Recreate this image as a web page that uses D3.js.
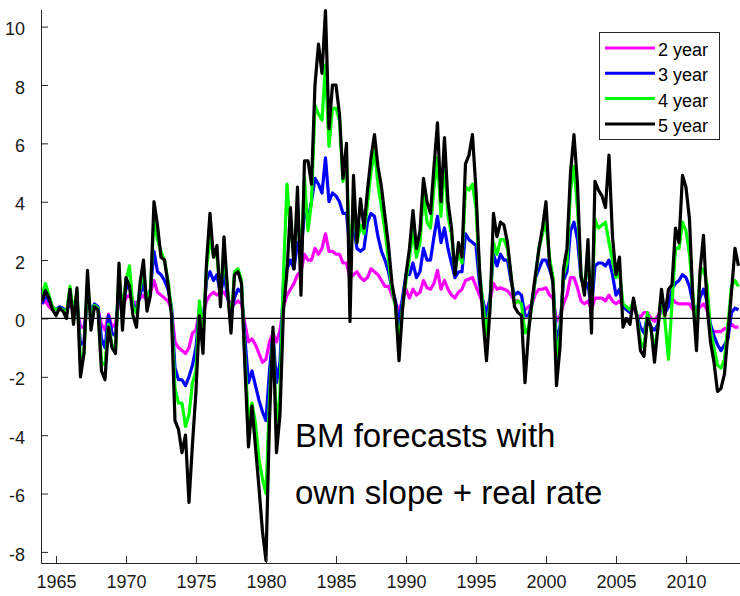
<!DOCTYPE html>
<html>
<head>
<meta charset="utf-8">
<script src="https://cdn.jsdelivr.net/npm/d3@7"></script>
<style>
  body { margin: 0; background: #fff; }
  text { font-family: "Liberation Sans", Arial, sans-serif; }
</style>
</head>
<body>
<div id="chart"></div>
<script>
// quarterly observations, one row per year (Q1..Q4), 1964-2013
var years = d3.range(1964, 2014);

var twoYear = [
  0.5, 0.6, 0.4, 0.3,     0.3, 0.35, 0.3, 0.3,    0.5, 0.3, 0.4, -0.3,    -0.3, 0.5, 0.3, 0.4,
  0.3, -0.2, -0.4, 0.15,  -0.3, -0.2, 0.6, 0.4,   0.7, 0.8, 0.6, 0.5,     0.7, 0.8, 0.6, 0.9,
  1.3, 0.9, 0.8, 0.7,     0.6, 0.3, -0.8, -1.0,   -1.1, -1.2, -1.0, -0.5, -0.4, 0.3, 0.1, 0.6,
  0.8, 0.9, 0.8, 0.9,     0.9, 0.7, 0.5, 0.5,     0.6, 0.5, -0.2, -0.8,   -0.7, -0.9, -1.2, -1.5,
  -1.4, -0.8, -0.5, -0.8, -0.4, 0.4, 0.8, 1.0,    1.2, 1.5, 1.6, 2.2,     2.0, 2.0, 2.4, 2.2,
  2.4, 2.9, 2.3, 2.3,     2.2, 2.2, 1.9, 1.9,     1.4, 1.5, 1.6, 1.4,     1.3, 1.4, 1.7, 1.6,
  1.5, 1.3, 1.1, 1.1,     0.8, 0.5, 0.3, 0.6,     1.0, 0.7, 1.0, 0.8,     0.9, 1.3, 1.05, 1.0,
  1.2, 1.65, 1.0, 1.3,    1.0, 0.8, 0.7, 0.9,     1.0, 1.3, 1.35, 1.4,    1.1, 0.8, 0.5, 0.3,
  0.6, 1.2, 1.0, 1.05,    1.0, 0.95, 0.8, 0.6,    0.6, 0.5, 0.3, 0.4,     0.5, 0.85, 1.0, 1.0,
  1.05, 0.8, 0.7, -0.1,   0.1, 0.5, 0.8, 1.4,     1.4, 1.05, 0.6, 0.5,    0.6, 0.3, 0.7, 0.7,
  0.7, 0.6, 0.8, 0.6,     0.5, 0.6, 0.4, 0.35,    0.2, 0.4, 0.1, 0.05,    0.2, 0.2, 0.0, -0.1,
  0.1, 0.3, 0.3, 0.45,    0.7, 0.55, 0.5, 0.5,    0.5, 0.5, 0.3, 0.2,     0.4, 0.5, 0.3, -0.35,
  -0.45, -0.45, -0.45, -0.35, -0.35, -0.2, -0.3, -0.3
];

var threeYear = [
  0.5, 0.8, 0.6, 0.4,     0.3, 0.4, 0.35, 0.2,    0.7, 0.2, 0.6, -0.9,    -0.8, 0.9, 0.2, 0.5,
  0.4, -0.7, -1.0, 0.1,   -0.5, -0.6, 1.0, 0.3,   1.0, 1.2, 0.5, 0.3,     0.8, 1.2, 0.6, 1.0,
  2.3, 1.6, 1.5, 1.3,     1.0, 0.4, -1.7, -2.1,   -2.1, -2.3, -2.0, -1.6, -1.0, 0.4, -0.2, 1.3,
  1.6, 1.3, 1.5, 0.8,     1.5, 0.8, 0.1, 0.7,     1.0, 0.9, -0.7, -2.2,   -1.8, -2.3, -2.8, -3.2,
  -3.5, -1.8, -0.5, -2.2, -1.5, 1.2, 1.7, 2.0,    1.7, 2.6, 2.3, 3.6,     3.4, 4.0, 4.8, 4.6,
  4.3, 5.5, 4.0, 4.3,     4.2, 4.0, 3.6, 3.6,     2.4, 3.2, 2.4, 2.3,     2.4, 3.3, 3.6, 3.5,
  2.8, 2.3, 2.0, 1.6,     1.0, 0.6, -0.2, 0.7,    1.5, 1.5, 1.9, 1.4,     1.6, 2.4, 2.0, 2.0,
  2.8, 3.5, 2.6, 3.1,     2.4, 1.9, 1.4, 1.6,     1.6, 2.9, 2.7, 2.6,     2.5, 1.2, 0.6, 0.1,
  0.7, 2.2, 1.8, 2.2,     2.0, 2.0, 1.3, 0.8,     0.9, 0.8, 0.1, 0.1,     0.5, 1.4, 1.7, 2.0,
  2.0, 1.7, 1.3, -0.8,    -0.3, 1.3, 1.6, 3.0,    3.3, 2.7, 1.4, 1.0,     1.2, 0.3, 1.8, 1.9,
  1.9, 1.8, 2.0, 1.5,     0.8, 1.0, 0.4, 0.3,     0.2, 0.5, 0.1, -0.3,    -0.5, 0.1, -0.3, -0.4,
  -0.2, 0.5, 0.2, 0.4,    1.0, 1.2, 1.3, 1.5,     1.4, 1.1, 0.5, 0.2,     0.7, 1.0, 0.6, -0.2,
  -0.6, -0.9, -1.1, -0.9, -0.7, 0.2, 0.35, 0.3
];

var fourYear = [
  0.8, 1.2, 0.8, 0.4,     0.3, 0.35, 0.3, 0.2,    1.1, 0.2, 0.9, -1.5,    -1.2, 1.3, 0.0, 0.45,
  0.35, -1.5, -1.6, -0.2, -0.9, -1.1, 1.5, 0.2,   1.3, 1.8, 0.4, 0.2,     1.0, 1.7, 0.5, 1.0,
  3.4, 2.7, 2.3, 2.0,     1.3, 0.3, -2.4, -2.9,   -2.9, -3.7, -3.3, -2.2, -1.8, 0.6, -0.6, 1.7,
  2.8, 2.1, 2.2, 0.8,     2.2, 1.0, -0.2, 1.6,    1.7, 1.3, -1.4, -3.5,   -2.9, -3.6, -4.8, -5.5,
  -6.0, -2.8, -0.5, -3.7, -2.6, 1.5, 4.6, 3.0,    2.2, 3.8, 2.0, 4.8,     3.0, 4.0, 7.3, 7.0,
  6.8, 8.7, 5.9, 7.2,     7.2, 6.8, 4.7, 5.6,     1.5, 4.2, 2.6, 3.2,     2.9, 3.9, 5.0, 5.8,
  4.6, 3.8, 3.0, 2.0,     1.0, 0.4, -1.0, 0.4,    1.3, 2.1, 3.0, 2.1,     2.6, 4.3, 3.3, 3.1,
  4.5, 5.5, 3.5, 5.4,     3.5, 2.9, 1.6, 2.3,     1.9, 4.5, 4.4, 4.6,     3.8, 1.6, 0.5, -0.6,
  0.5, 2.6, 2.2, 2.7,     2.7, 2.4, 1.5, 0.5,     0.6, 0.5, -0.5, -0.3,   0.5, 1.4, 2.4, 2.9,
  3.3, 2.1, 1.4, -1.4,    -0.6, 1.5, 1.9, 4.4,    5.2, 3.8, 1.5, 1.0,     2.2, 0.1, 3.4, 3.1,
  3.2, 3.3, 2.6, 2.0,     1.4, 1.6, 0.5, 0.4,     0.3, 0.6, 0.1, -0.8,    -1.0, 0.2, -0.4, -1.1,
  -0.3, 0.8, -0.1, -1.4,  0.5, 2.4, 2.4, 3.3,     3.0, 2.2, 0.8, -0.5,    1.5, 1.7, 1.2, -0.4,
  -1.0, -1.6, -1.7, -1.4, -0.2, 1.1, 1.3, 1.1
];

var fiveYear = [
  0.6, 0.95, 0.7, 0.3,    0.1, 0.35, 0.25, 0.0,   1.0, -0.2, 1.05, -2.0,  -1.2, 1.65, -0.4, 0.4,
  0.3, -1.8, -2.1, -0.3,  -1.0, -1.2, 1.9, -0.4,  1.4, 1.1, 0.1, -0.3,    1.2, 2.0, 0.25, 0.8,
  4.0, 3.2, 2.1, 2.0,     1.2, 0.1, -3.5, -3.8,   -4.6, -4.0, -6.3, -4.3, -2.5, 0.1, -1.2, 1.9,
  3.6, 2.1, 2.5, 0.4,     2.8, 1.0, -0.5, 1.5,    1.6, 1.2, -1.7, -4.4,   -3.0, -4.4, -5.8, -7.3,
  -8.3, -3.5, -0.3, -4.6, -3.3, 0.3, 1.6, 3.8,    1.7, 4.5, 0.8, 5.4,     5.4, 4.6, 8.0, 9.4,
  8.4, 10.55, 6.5, 8.0,   8.0, 7.0, 4.8, 6.0,     -0.1, 4.9, 2.6, 4.1,    3.1, 4.4, 5.5, 6.3,
  5.2, 4.5, 3.5, 2.5,     1.2, 0.5, -1.45, 0.3,   1.5, 2.4, 3.7, 2.4,     3.0, 4.8, 4.0, 3.6,
  5.2, 6.7, 4.0, 6.2,     4.0, 3.1, 1.5, 2.6,     2.1, 5.3, 5.6, 6.3,     4.4, 1.7, 0.0, -1.45,
  0.3, 3.6, 2.8, 3.3,     3.2, 2.6, 1.5, 0.4,     0.2, 0.1, -2.2, -0.5,   0.6, 1.5, 2.4, 3.1,
  4.0, 1.9, 1.2, -2.3,    -1.0, 1.7, 2.4, 5.0,    6.3, 4.6, 1.5, 0.8,     2.7, -0.5, 4.7, 4.4,
  4.2, 3.8, 5.6, 2.8,     1.5, 2.1, -0.3, 0.0,    -0.2, 0.7, 0.0, -1.1,   -1.3, 0.0, -0.3, -1.5,
  -0.3, 1.0, 0.1, 1.0,    1.15, 3.1, 2.6, 4.9,    4.5, 3.4, 0.6, -1.1,    1.6, 2.85, 0.5, -0.8,
  -1.5, -2.5, -2.4, -1.9, -0.5, 0.9, 2.4, 1.8
];

var seriesNames = ["2 year", "3 year", "4 year", "5 year"];
var seriesColors = ["#ff00ff", "#0000ff", "#00ff00", "#000000"];
var yTicks = [-8, -6, -4, -2, 0, 2, 4, 6, 8, 10];
var xTicks = [1965, 1970, 1975, 1980, 1985, 1990, 1995, 2000, 2005, 2010];
var noteLines = ["BM forecasts with", "own slope + real rate"];

var svgWidth = 740;
var svgHeight = 596;

var svg = d3.select("#chart")
  .append("svg")
  .attr("width", svgWidth)
  .attr("height", svgHeight);

// axes box (MATLAB style, box off)
var plotLeft = 41, plotRight = 741, plotTop = 10, plotBottom = 563;

var x = d3.scaleLinear()
  .domain([1963.93, 2013.93])
  .range([plotLeft, plotRight]);

var y = d3.scaleLinear()
  .domain([-8.38, 10.57])
  .range([plotBottom, plotTop]);

// quarter dates for each value
var dates = [];
years.forEach(function(yr) {
  for (var q = 0; q < 4; q++) dates.push(yr + q / 4);
});

var allSeries = [twoYear, threeYear, fourYear, fiveYear];

var line = d3.line()
  .x(function(d) { return x(d[0]); })
  .y(function(d) { return y(d[1]); });

svg.append("clipPath").attr("id", "plotclip")
  .append("rect")
  .attr("x", plotLeft).attr("y", 0)
  .attr("width", plotRight - plotLeft).attr("height", plotBottom);

var plot = svg.append("g").attr("clip-path", "url(#plotclip)");

allSeries.forEach(function(vals, i) {
  plot.append("path")
    .datum(vals.map(function(v, j) { return [dates[j], v]; }))
    .attr("d", line)
    .attr("fill", "none")
    .attr("stroke", seriesColors[i])
    .attr("stroke-width", 3.2)
    .attr("stroke-linejoin", "round");
});

// zero line
svg.append("line")
  .attr("x1", plotLeft).attr("x2", plotRight)
  .attr("y1", y(0)).attr("y2", y(0))
  .attr("stroke", "#000")
  .attr("stroke-width", 1.2);

// axes
var axisColor = "#262626";

var leftAxis = d3.axisLeft(y)
  .tickValues(yTicks)
  .tickSize(-7)
  .tickPadding(16)
  .tickFormat(d3.format("d"));

var gy = svg.append("g")
  .attr("transform", "translate(" + plotLeft + ",0)")
  .call(leftAxis);

var bottomAxis = d3.axisBottom(x)
  .tickValues(xTicks)
  .tickSize(-7)
  .tickPadding(12)
  .tickFormat(d3.format("d"));

var gx = svg.append("g")
  .attr("transform", "translate(0," + plotBottom + ")")
  .call(bottomAxis);

[gx, gy].forEach(function(g) {
  g.select(".domain").attr("stroke", axisColor).attr("stroke-width", 1);
  g.selectAll(".tick line").attr("stroke", axisColor);
  g.selectAll(".tick text")
    .attr("fill", "#1a1a1a")
    .attr("font-size", "18px")
    .attr("font-family", "'Liberation Sans', Arial, sans-serif");
});
gy.select(".domain").attr("d", "M0.5," + plotTop + "V" + plotBottom);
gy.selectAll(".tick text").attr("dy", "0.45em").text(function(d) { return String(d).replace("\u2212", "-"); });

// annotation
svg.selectAll(".note")
  .data(noteLines)
  .enter()
  .append("text")
  .attr("class", "note")
  .attr("x", 295)
  .attr("y", function(d, i) { return 447 + i * 57; })
  .attr("font-size", "33px")
  .attr("fill", "#000")
  .text(function(d) { return d; });

// legend
var legend = svg.append("g");
legend.append("rect")
  .attr("x", 599.5).attr("y", 32.5)
  .attr("width", 120).attr("height", 107)
  .attr("fill", "#fff")
  .attr("stroke", axisColor)
  .attr("stroke-width", 1);

seriesNames.forEach(function(name, i) {
  var ly = 48 + i * 25.3;
  legend.append("line")
    .attr("x1", 605).attr("x2", 655)
    .attr("y1", ly).attr("y2", ly)
    .attr("stroke", seriesColors[i])
    .attr("stroke-width", 3);
  legend.append("text")
    .attr("x", 658)
    .attr("y", ly + 8)
    .attr("font-size", "18px")
    .attr("fill", "#000")
    .text(name);
});
</script>
</body>
</html>
